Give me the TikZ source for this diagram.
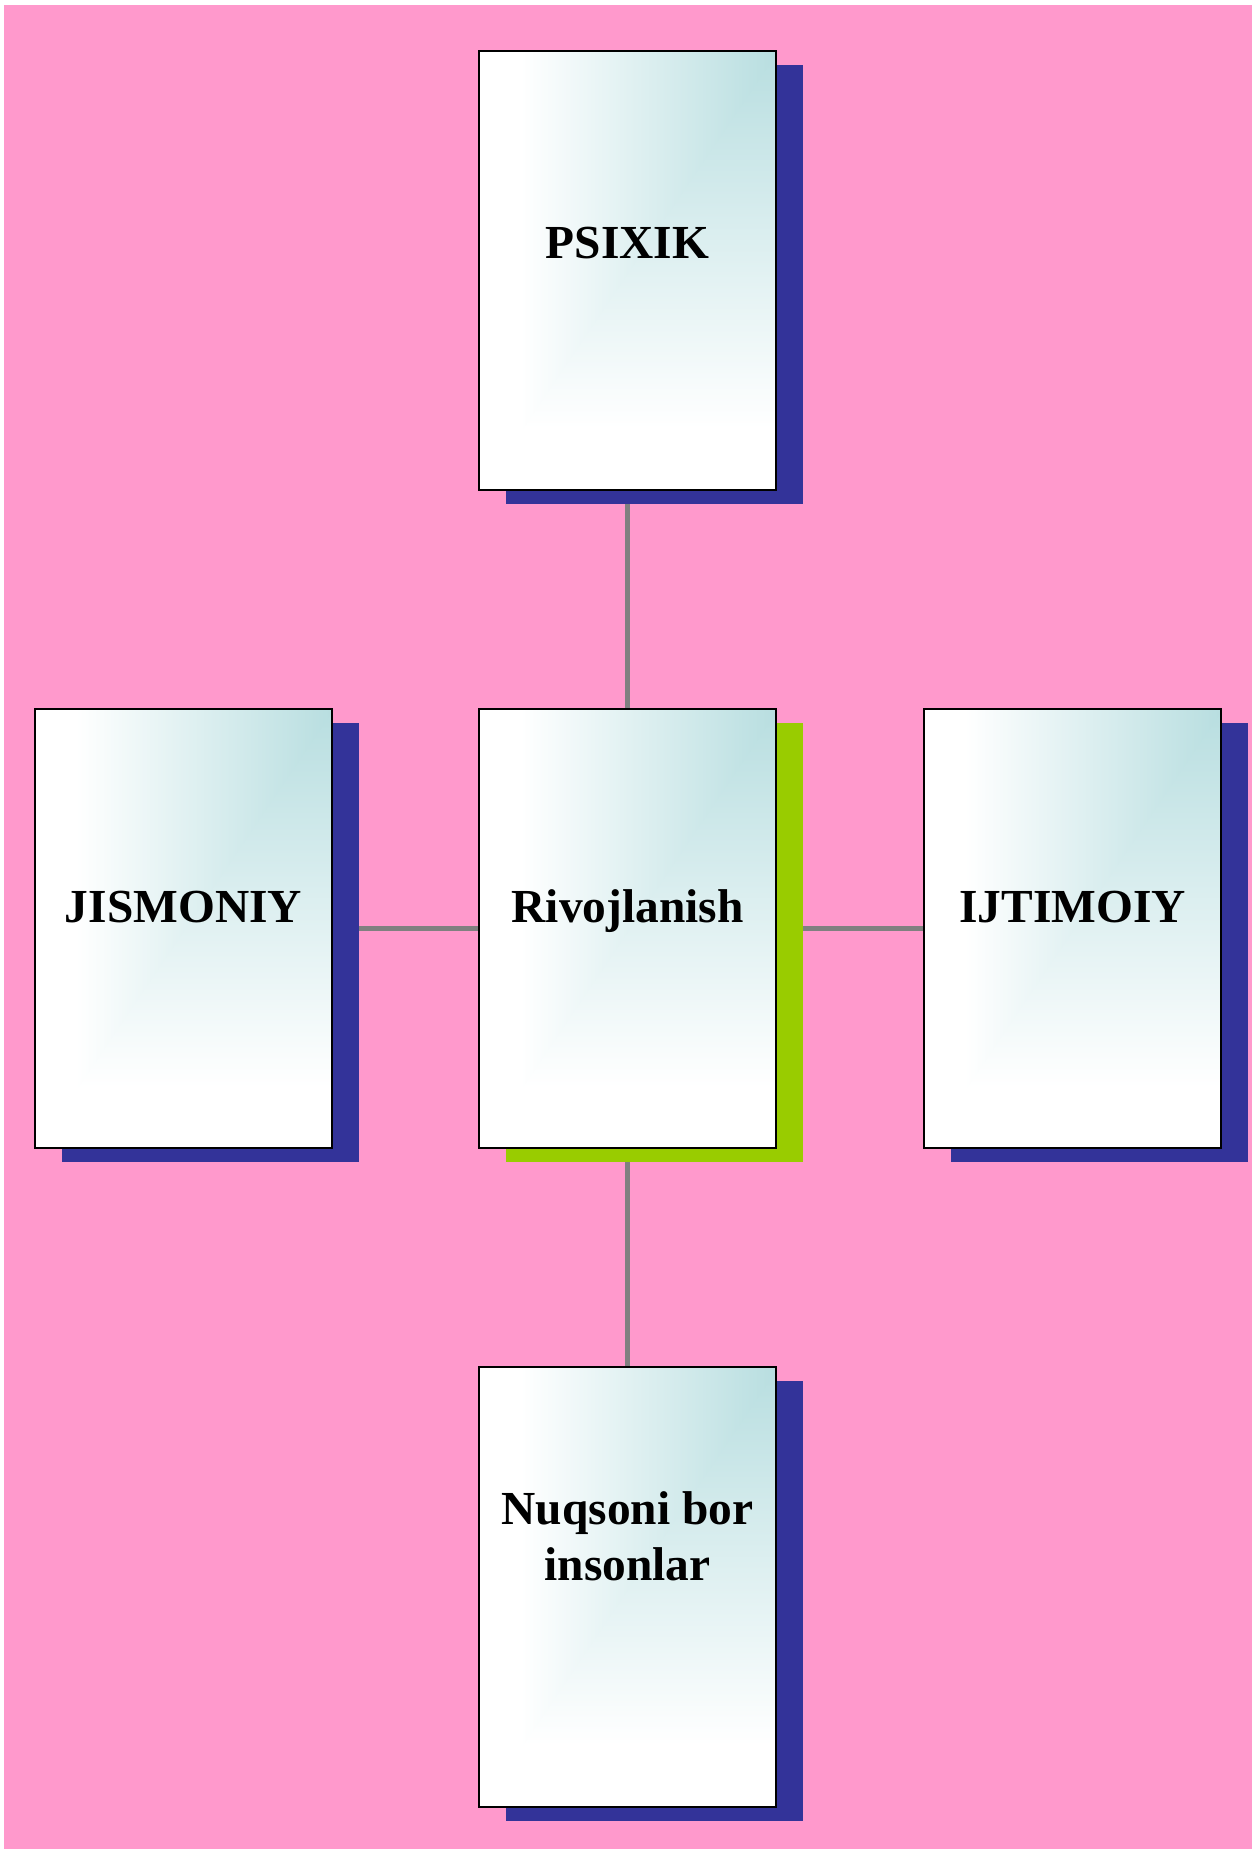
\documentclass[tikz,border=0pt]{standalone}
\usepackage{fontspec}
\setmainfont{Liberation Serif}
\usetikzlibrary{shadows,backgrounds}
\definecolor{bgpink}{RGB}{255,153,204}
\definecolor{tealc}{RGB}{184,222,224}
\definecolor{navyc}{RGB}{51,51,153}
\definecolor{greenc}{RGB}{153,204,0}
\definecolor{linegray}{RGB}{128,128,128}
\pgfdeclarehorizontalshading{cornerh}{100bp}{color(0bp)=(white); color(25bp)=(white); color(32bp)=(white); color(75bp)=(tealc); color(100bp)=(tealc)}
\pgfdeclareverticalshading{cornerv}{100bp}{color(0bp)=(white); color(25bp)=(white); color(32bp)=(white); color(75bp)=(tealc); color(100bp)=(tealc)}
\tikzset{
  cardfill/.style={path picture={
    \shade[shading=cornerv] (path picture bounding box.south west) rectangle (path picture bounding box.north east);
    \begin{scope}
      \clip (path picture bounding box.north east) -- (path picture bounding box.north west) -- (path picture bounding box.south west) -- ([xshift=1.2pt]path picture bounding box.south west) -- ([xshift=1.2pt]path picture bounding box.north east) -- cycle;
      \shade[shading=cornerh] (path picture bounding box.south west) rectangle (path picture bounding box.north east);
    \end{scope}
  }},
  cardbase/.style={draw=black, line width=1pt, minimum width=148.5pt, minimum height=219.75pt, inner sep=0pt, cardfill},
  card/.style={cardbase, general shadow={fill=navyc, shadow xshift=13.5pt, shadow yshift=-7pt}},
  maincard/.style={cardbase, general shadow={fill=greenc, shadow xshift=13.5pt, shadow yshift=-7pt}},
  lbl/.style={font=\bfseries\fontsize{23.7pt}{28pt}\selectfont, align=center, inner sep=0pt, anchor=base},
  conn/.style={draw=linegray, line width=2.75pt}
}
\begin{document}
\begin{tikzpicture}[x=0.5pt, y=-0.5pt]
  \useasboundingbox (0,0) rectangle (1259,1849);
  % boxes
  \node[card] (p) at (627.5,270.4) {};
  \node[maincard] (r) at (627.5,928.7) {};
  \node[card] (n) at (627.5,1587) {};
  \node[card] (j) at (183,928.7) {};
  \node[card] (i) at (1072,928.7) {};
  % labels
  \node[lbl] (tp) at (627.5,258.3) {PSIXIK};
  \node[lbl] (tr) at (627.5,922) {Rivojlanish};
  \node[lbl] (tj) at (183.5,922) {JISMONIY};
  \node[lbl] (ti) at (1072.5,922) {IJTIMOIY};
  \node[lbl] (tn) at (627.5,1580) {Nuqsoni bor\\insonlar};
  \begin{scope}[on background layer]
    \fill[bgpink] (4,5) rectangle (1252,1849);
    \draw[conn] (p) -- (r);
    \draw[conn] (r) -- (n);
    \draw[conn] (j) -- (r);
    \draw[conn] (r) -- (i);
  \end{scope}
\end{tikzpicture}
\end{document}
